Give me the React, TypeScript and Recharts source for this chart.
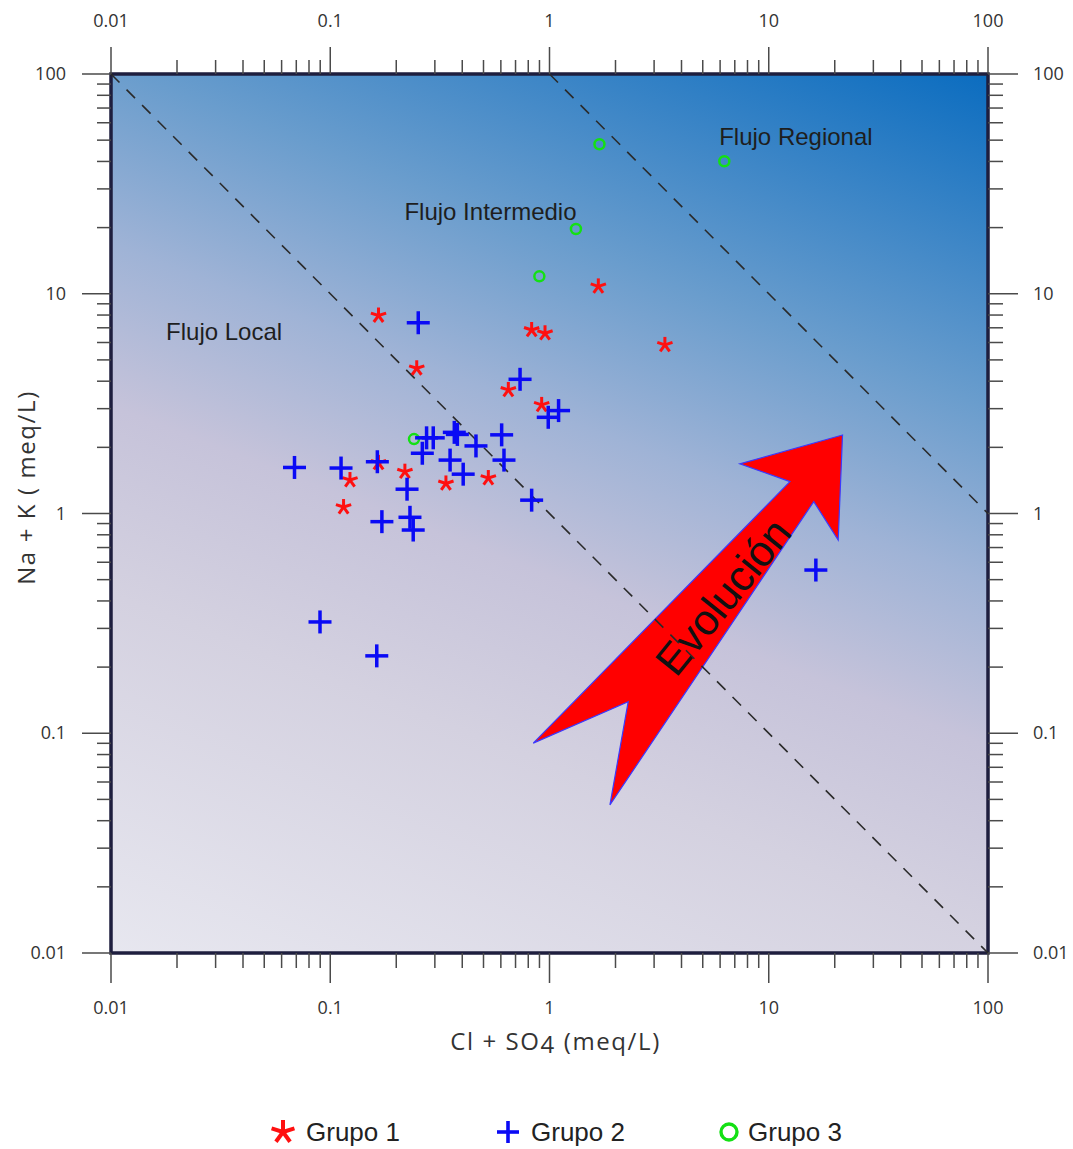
import { ScatterChart, Scatter, XAxis, YAxis, ReferenceArea, ReferenceLine, ReferenceDot } from 'recharts'

// [Cl + SO4, Na + K] in meq/L
const grupo1: [number, number][] = [
  [0.166, 7.96], [0.248, 4.58], [0.219, 1.55], [0.123, 1.42], [0.115, 1.07],
  [0.166, 1.7], [0.337, 1.37], [0.526, 1.45], [0.649, 3.65], [0.921, 3.12],
  [0.829, 6.84], [0.954, 6.61], [1.67, 10.8], [3.36, 5.85],
]
const grupo2: [number, number][] = [
  [0.0687, 1.62], [0.112, 1.61], [0.164, 1.72], [0.0898, 0.321], [0.163, 0.225],
  [0.172, 0.918], [0.231, 0.961], [0.239, 0.841], [0.224, 1.29], [0.263, 1.88],
  [0.275, 2.21], [0.295, 2.21], [0.368, 2.34], [0.38, 2.29], [0.352, 1.75],
  [0.404, 1.51], [0.462, 2.03], [0.605, 2.28], [0.62, 1.75], [0.829, 1.15],
  [0.252, 7.38], [0.734, 4.08], [1.1, 2.94], [0.987, 2.74], [16.4, 0.553],
]
const grupo3: [number, number][] = [
  [0.241, 2.18], [0.899, 12.0], [1.32, 19.7], [1.69, 47.9], [6.27, 40.1],
]

const majorTicks = [0.01, 0.1, 1, 10, 100]
const minorSteps = [2, 3, 4, 5, 6, 7, 8, 9]
const allTicks = [
  ...majorTicks,
  ...majorTicks.slice(0, 4).flatMap((d) => minorSteps.map((m) => +(d * m).toPrecision(2))),
].sort((a, b) => a - b)

// x*y = const guide lines
const lineLocal = [{ x: 0.01, y: 100 }, { x: 100, y: 0.01 }]
const lineRegional = [{ x: 1, y: 100 }, { x: 100, y: 1 }]

const zoneLabels = [
  { text: 'Flujo Local', x: 0.0328, y: 6.7 },
  { text: 'Flujo Intermedio', x: 0.538, y: 23.8 },
  { text: 'Flujo Regional', x: 13.3, y: 52.2 },
]

// arrow bounding box in data units, and outline as fractions of that box
const arrowBox = { x1: 0.843, x2: 21.7, y1: 0.0472, y2: 2.276 }
const arrowOutline: [number, number][] = [
  [1, 0], [0.668, 0.078], [0.83, 0.126], [0, 0.833], [0.307, 0.721],
  [0.248, 1], [0.907, 0.18], [0.986, 0.284],
]

const toPts = (arr: [number, number][]) => arr.map(([x, y]) => ({ x, y }))

const TICK_FONT = '"Open Sans", "DejaVu Sans", sans-serif'
const ARIAL = '"Liberation Sans", Arial, sans-serif'

const isMajor = (v: number) => Math.abs(Math.log10(v) - Math.round(Math.log10(v))) < 1e-6

function makeTick(side: 'top' | 'bottom' | 'left' | 'right') {
  return (props: any) => {
    const { x, y, payload } = props
    const v = payload.value
    const major = isMajor(v)
    const len = major ? 30 : 15
    const label = String(v)
    const txt = { fontSize: 18, fontFamily: TICK_FONT, fill: '#333' }
    if (side === 'bottom') {
      return (
        <g>
          <line x1={x} y1={y} x2={x} y2={y + len} stroke="#4a4a4a" strokeWidth={1.5} />
          {major && <text x={x} y={y + 61} textAnchor="middle" {...txt}>{label}</text>}
        </g>
      )
    }
    if (side === 'top') {
      return (
        <g>
          <line x1={x} y1={y} x2={x} y2={y - (major ? 27 : 14)} stroke="#4a4a4a" strokeWidth={1.5} />
          {major && <text x={x} y={y - 47} textAnchor="middle" {...txt}>{label}</text>}
        </g>
      )
    }
    if (side === 'left') {
      return (
        <g>
          <line x1={x} y1={y} x2={x - (major ? 29 : 14)} y2={y} stroke="#4a4a4a" strokeWidth={1.5} />
          {major && <text x={x - 45} y={y + 6} textAnchor="end" {...txt}>{label}</text>}
        </g>
      )
    }
    return (
      <g>
        <line x1={x} y1={y} x2={x + len} y2={y} stroke="#4a4a4a" strokeWidth={1.5} />
        {major && <text x={x + 45} y={y + 6} textAnchor="start" {...txt}>{label}</text>}
      </g>
    )
  }
}

function Asterisk({ cx, cy, r = 8, w = 3 }: any) {
  const angles = [-90, -18, 54, 126, 198]
  return (
    <g>
      {angles.map((a) => (
        <line
          key={a}
          x1={cx}
          y1={cy}
          x2={cx + r * Math.cos((a * Math.PI) / 180)}
          y2={cy + r * Math.sin((a * Math.PI) / 180)}
          stroke="#ff1010"
          strokeWidth={w}
          strokeLinecap="butt"
        />
      ))}
    </g>
  )
}

function Plus({ cx, cy, r = 11.5, w = 3.5 }: any) {
  return (
    <g>
      <line x1={cx - r} y1={cy} x2={cx + r} y2={cy} stroke="#0a0af5" strokeWidth={w} />
      <line x1={cx} y1={cy - r} x2={cx} y2={cy + r} stroke="#0a0af5" strokeWidth={w} />
    </g>
  )
}

function Ring({ cx, cy, r = 5, w = 2.5 }: any) {
  return <circle cx={cx} cy={cy} r={r} fill="none" stroke="#14e014" strokeWidth={w} />
}

function Background(props: any) {
  const { x, y, width, height } = props
  return (
    <g>
      <defs>
        <linearGradient id="bgGrad" x1="0.26" y1="1.12" x2="0.74" y2="-0.12">
          <stop offset="0" stopColor="#e8e8f0" />
          <stop offset="0.3" stopColor="#d4d1e0" />
          <stop offset="0.45" stopColor="#c6c3da" />
          <stop offset="0.58" stopColor="#9fb3d6" />
          <stop offset="0.72" stopColor="#6a9dcd" />
          <stop offset="1" stopColor="#066abf" />
        </linearGradient>
      </defs>
      <rect x={x} y={y} width={width} height={height} fill="url(#bgGrad)" stroke="#1e1e3e" strokeWidth={3.5} />
    </g>
  )
}

function Arrow(props: any) {
  const { x, y, width, height } = props
  const pts = arrowOutline.map(([fx, fy]) => `${x + fx * width},${y + fy * height}`).join(' ')
  const tx = x + 0.614 * width
  const ty = y + 0.437 * height
  return (
    <g>
      <polygon points={pts} fill="#ff0000" stroke="#3a3aff" strokeWidth={1.2} />
      <text
        x={tx}
        y={ty}
        transform={`rotate(-51 ${tx} ${ty})`}
        textAnchor="middle"
        dominantBaseline="central"
        fontSize={43}
        fontFamily={ARIAL}
        fill="#111"
      >
        Evolución
      </text>
    </g>
  )
}

const legendItems = [
  { label: 'Grupo 1', left: 270, Icon: Asterisk, size: { r: 12, w: 4 } },
  { label: 'Grupo 2', left: 495, Icon: Plus, size: { r: 11, w: 3.6 } },
  { label: 'Grupo 3', left: 716, Icon: Ring, size: { r: 8, w: 3.4 } },
]

function ChartLegend() {
  return (
    <div style={{ position: 'absolute', left: 0, top: 1112, width: 1073, height: 40 }}>
      {legendItems.map(({ label, left, Icon, size }) => (
        <div key={label} style={{ position: 'absolute', left, top: 0, display: 'flex', alignItems: 'center', height: 40 }}>
          <svg width={26} height={26} style={{ marginRight: label === 'Grupo 3' ? 6 : 10 }}>
            <Icon cx={13} cy={13} {...size} />
          </svg>
          <span style={{ fontFamily: ARIAL, fontSize: 26, color: '#222' }}>{label}</span>
        </div>
      ))}
    </div>
  )
}

const titleStyle = { fontSize: 24, fontFamily: TICK_FONT, fill: '#333', letterSpacing: 1.6 }

export default function App() {
  return (
    <div style={{ position: 'absolute', left: 0, top: 0, width: 1073, height: 1149, background: '#fff' }}>
      <ScatterChart width={1073} height={1100} margin={{ top: 14, right: 5, bottom: 47, left: 11 }}>
        <XAxis
          xAxisId="b"
          dataKey="x"
          type="number"
          scale="log"
          domain={[0.01, 100]}
          allowDataOverflow
          ticks={allTicks}
          interval={0}
          height={100}
          axisLine={false}
          tickLine={false}
          tickSize={0}
          tickMargin={0}
          tick={makeTick('bottom')}
          label={{
            content: ({ viewBox }: any) => (
              <text
                x={viewBox.x + viewBox.width / 2 + 6}
                y={viewBox.y + 97}
                textAnchor="middle"
                {...titleStyle}
              >
                Cl + SO<tspan dy={3}>4</tspan>
                <tspan dy={-3}> (meq/L)</tspan>
              </text>
            ),
          }}
        />
        <XAxis
          xAxisId="t"
          orientation="top"
          dataKey="x"
          type="number"
          scale="log"
          domain={[0.01, 100]}
          allowDataOverflow
          ticks={allTicks}
          interval={0}
          height={60}
          axisLine={false}
          tickLine={false}
          tickSize={0}
          tickMargin={0}
          tick={makeTick('top')}
        />
        <YAxis
          yAxisId="l"
          dataKey="y"
          type="number"
          scale="log"
          domain={[0.01, 100]}
          allowDataOverflow
          ticks={allTicks}
          interval={0}
          width={100}
          axisLine={false}
          tickLine={false}
          tickSize={0}
          tickMargin={0}
          tick={makeTick('left')}
          label={{
            content: ({ viewBox }: any) => {
              const cx = viewBox.x + 14
              const cy = viewBox.y + viewBox.height / 2 - 26
              return (
                <text
                  x={cx}
                  y={cy}
                  transform={`rotate(-90 ${cx} ${cy})`}
                  textAnchor="middle"
                  dominantBaseline="central"
                  {...titleStyle}
                >
                  Na + K ( meq/L)
                </text>
              )
            },
          }}
        />
        <YAxis
          yAxisId="r"
          orientation="right"
          dataKey="y"
          type="number"
          scale="log"
          domain={[0.01, 100]}
          allowDataOverflow
          ticks={allTicks}
          interval={0}
          width={80}
          axisLine={false}
          tickLine={false}
          tickSize={0}
          tickMargin={0}
          tick={makeTick('right')}
        />
        <ReferenceArea xAxisId="b" yAxisId="l" x1={0.01} x2={100} y1={0.01} y2={100} shape={Background} />
        <ReferenceLine xAxisId="b" yAxisId="l" segment={lineLocal} stroke="#2a2a2a" strokeWidth={1.6} strokeDasharray="12 10" />
        <ReferenceLine xAxisId="b" yAxisId="l" segment={lineRegional} stroke="#2a2a2a" strokeWidth={1.6} strokeDasharray="12 10" />
        {zoneLabels.map((z) => (
          <ReferenceDot
            key={z.text}
            xAxisId="b"
            yAxisId="l"
            x={z.x}
            y={z.y}
            r={0}
            fill="none"
            stroke="none"
            label={{ value: z.text, position: 'center', fontSize: 24, fontFamily: ARIAL, fill: '#1e1e1e' }}
          />
        ))}
        <ReferenceArea
          xAxisId="b"
          yAxisId="l"
          x1={arrowBox.x1}
          x2={arrowBox.x2}
          y1={arrowBox.y1}
          y2={arrowBox.y2}
          shape={Arrow}
        />
        <Scatter
          name="Grupo 3"
          xAxisId="b"
          yAxisId="l"
          data={toPts(grupo3)}
          isAnimationActive={false}
          shape={(p: any) => <Ring cx={p.cx} cy={p.cy} />}
        />
        <Scatter
          name="Grupo 1"
          xAxisId="b"
          yAxisId="l"
          data={toPts(grupo1)}
          isAnimationActive={false}
          shape={(p: any) => <Asterisk cx={p.cx} cy={p.cy} />}
        />
        <Scatter
          name="Grupo 2"
          xAxisId="b"
          yAxisId="l"
          data={toPts(grupo2)}
          isAnimationActive={false}
          shape={(p: any) => <Plus cx={p.cx} cy={p.cy} />}
        />
      </ScatterChart>
      <ChartLegend />
    </div>
  )
}
